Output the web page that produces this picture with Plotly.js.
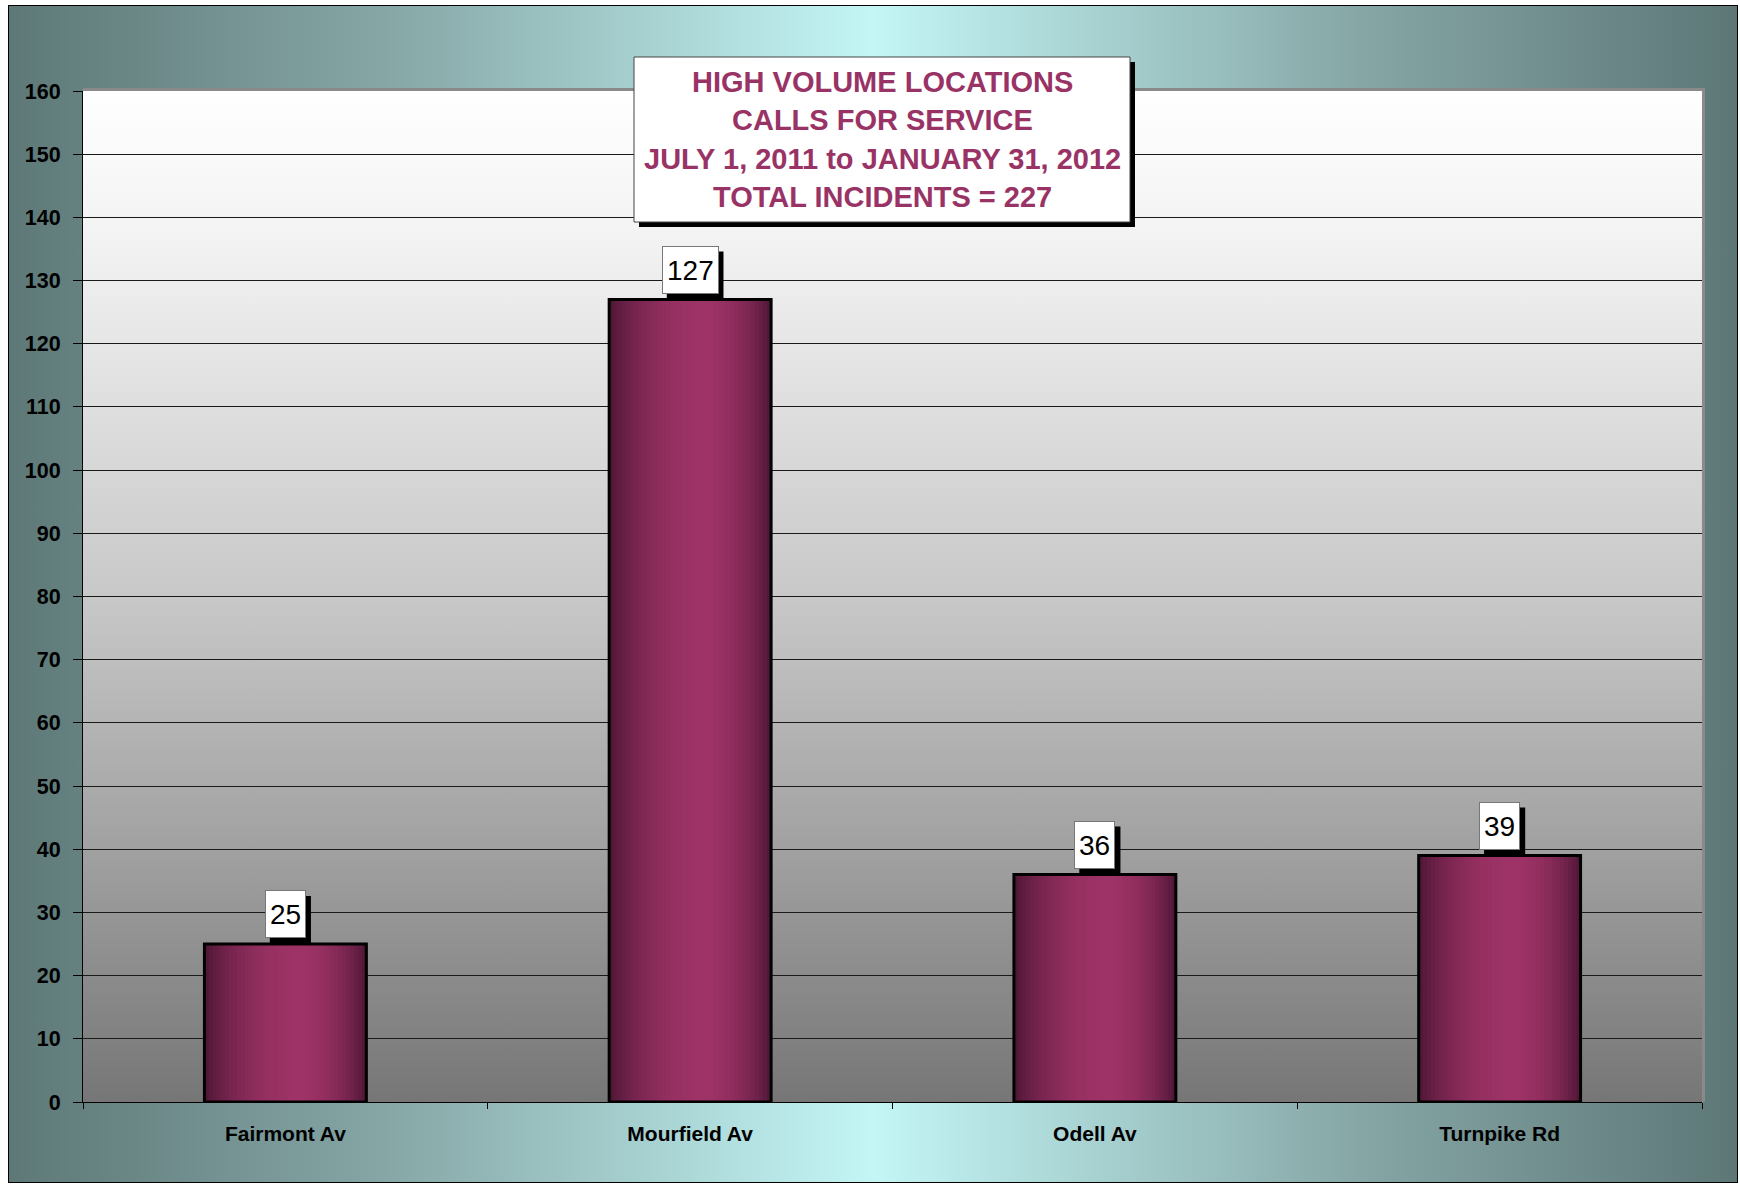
<!DOCTYPE html>
<html>
<head>
<meta charset="utf-8">
<script src="https://cdn.plot.ly/plotly-3.0.1.min.js"></script>
<style>
  html, body { margin: 0; padding: 0; background: #ffffff; }
  #wrap { position: relative; width: 1740px; height: 1185px; overflow: hidden; }
  #frame { position: absolute; left: 8px; top: 5px; width: 1728px; height: 1176px;
           border: 1px solid #000;
           background: linear-gradient(to right, #5d7877 0%, #86a7a6 22%, #c4f6f6 50%, #86a7a6 78%, #5d7777 100%); }
  #plotbg { position: absolute; left: 83px; top: 91px; width: 1619px; height: 1011px;
            background: linear-gradient(to bottom, #ffffff 0%, #f2f2f2 15%, #c8c8c8 50%, #9c9c9c 78%, #767676 100%); }
  #chart { position: absolute; left: 0; top: 0; width: 1740px; height: 1185px; }
</style>
</head>
<body>
<div id="wrap">
  <div id="frame"></div>
  <div id="plotbg"></div>
  <div id="chart"></div>
</div>
<script>
// ---- data ----
const categories = ['Fairmont Av', 'Mourfield Av', 'Odell Av', 'Turnpike Rd'];
const incidents = [25, 127, 36, 39];
const titleLines = [
  'HIGH VOLUME LOCATIONS',
  'CALLS FOR SERVICE',
  'JULY 1, 2011 to JANUARY 31, 2012',
  'TOTAL INCIDENTS = 227'
];

// ---- styling helpers ----
const FONT = 'Liberation Sans, Arial, Helvetica, sans-serif';
const PLUM = '#993366';
const W = 1740, H = 1185;
const M = {l: 83, r: 38, t: 91, b: 83};
const PW = W - M.l - M.r, PH = H - M.t - M.b;
const px = x => (x - M.l) / PW;
const py = y => (H - M.b - y) / PH;

function mix(a, b, f) {
  const c = a.map((v, i) => Math.round(v + (b[i] - v) * f));
  return 'rgb(' + c.join(',') + ')';
}
const DARK = [74, 21, 51], LIGHT = [157, 51, 102];

const BAR_W = 0.4, N = 40, step = BAR_W / N, peak = 0.58;
const traces = [];
for (let i = 0; i < N; i++) {
  const t = (i + 0.5) / N;
  let f = t < peak ? Math.sin(t / peak * Math.PI / 2) : Math.cos((t - peak) / (1 - peak) * Math.PI / 2);
  f = Math.pow(Math.max(f, 0), 0.75);
  traces.push({
    type: 'bar', x: categories, y: incidents,
    width: step * 1.25, offset: -BAR_W / 2 + i * step,
    marker: {color: mix(DARK, LIGHT, f), line: {width: 0}},
    hoverinfo: 'skip', showlegend: false
  });
}
// outline
traces.push({
  type: 'bar', x: categories, y: incidents,
  width: BAR_W, offset: -BAR_W / 2,
  marker: {color: 'rgba(0,0,0,0)', line: {color: '#000', width: 3}},
  hoverinfo: 'skip', showlegend: false
});

const LABEL_SIZE = 28, PAD = 4, BOX_H = 38 + 2 * PAD + 2;
const annotations = [];
const shapes = [
  // plot-area top/right shade
  {type: 'line', xref: 'paper', yref: 'paper', x0: 0, x1: 1.0008, y0: 1.0015, y1: 1.0015,
   line: {color: '#8a8a8a', width: 3}, layer: 'below'},
  {type: 'line', xref: 'paper', yref: 'paper', x0: 1.0009, x1: 1.0009, y0: 0, y1: 1.003,
   line: {color: '#8a8a8a', width: 3}, layer: 'below'},
  // title box shadow and box
  {type: 'rect', xref: 'paper', yref: 'paper', x0: px(639), x1: px(1135), y0: py(227), y1: py(62),
   fillcolor: '#000', line: {width: 0}, layer: 'above'},
  {type: 'rect', xref: 'paper', yref: 'paper', x0: px(634), x1: px(1130), y0: py(222), y1: py(57),
   fillcolor: '#fff', line: {color: '#444', width: 1}, layer: 'above'}
];

// value labels with drop shadow (shadow drawn as a pixel-sized shape)
incidents.forEach((v, i) => {
  const txt = String(v);
  const boxW = txt.length * LABEL_SIZE * 0.556 + 2 * PAD + 2;
  shapes.push({
    type: 'rect', xref: 'x', yref: 'y',
    xsizemode: 'pixel', ysizemode: 'pixel',
    xanchor: i, yanchor: v,
    x0: -boxW / 2 + 5, x1: boxW / 2 + 5, y0: 0, y1: BOX_H,
    fillcolor: '#000', line: {width: 0}, layer: 'above'
  });
  annotations.push({
    x: categories[i], y: v, xref: 'x', yref: 'y',
    text: txt, showarrow: false, yanchor: 'bottom', xanchor: 'center',
    font: {family: FONT, size: LABEL_SIZE, color: '#000'},
    bgcolor: '#fff', bordercolor: '#777',
    borderpad: PAD, borderwidth: 1, height: 38, valign: 'middle', yshift: 6
  });
});
// title lines
const lineY = [82, 120, 159, 197];
titleLines.forEach((s, i) => {
  annotations.push({
    xref: 'paper', yref: 'paper', x: px(882), y: py(lineY[i]),
    xanchor: 'center', yanchor: 'middle', showarrow: false,
    text: s, font: {family: FONT, size: 29, color: PLUM, weight: 700}
  });
});

const layout = {
  width: W, height: H,
  margin: M,
  paper_bgcolor: 'rgba(0,0,0,0)',
  plot_bgcolor: 'rgba(0,0,0,0)',
  barmode: 'overlay',
  showlegend: false,
  font: {family: FONT, color: '#000'},
  xaxis: {
    type: 'category', range: [-0.5, 3.5],
    showline: true, linecolor: '#000', linewidth: 1,
    ticks: 'outside', tickson: 'boundaries', ticklen: 6, tickcolor: '#000', tickwidth: 1,
    showgrid: false, zeroline: false,
    tickfont: {family: FONT, size: 21, color: '#000', weight: 700},
    ticklabelstandoff: 13
  },
  yaxis: {
    range: [0, 160], dtick: 10, tick0: 0,
    showline: true, linecolor: '#000', linewidth: 1,
    ticks: 'outside', ticklen: 9, tickcolor: '#000', tickwidth: 1,
    showgrid: true, gridcolor: '#1a1a1a', gridwidth: 1, zeroline: false,
    tickfont: {family: FONT, size: 21.5, color: '#000', weight: 700},
    ticklabelstandoff: 8
  },
  annotations: annotations,
  shapes: shapes
};

Plotly.newPlot('chart', traces, layout, {displayModeBar: false, staticPlot: true});
</script>
</body>
</html>
